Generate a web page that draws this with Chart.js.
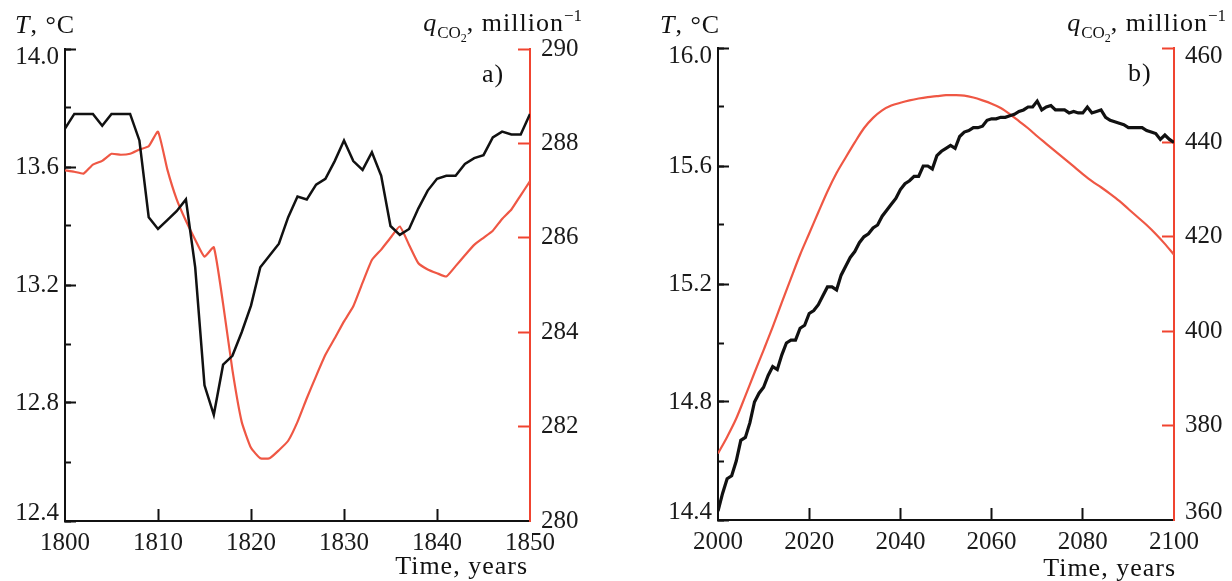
<!DOCTYPE html>
<html lang="en">
<head>
  <meta charset="UTF-8">
  <title>Temperature and CO2</title>
  <script src="https://cdn.jsdelivr.net/npm/chart.js"></script>
  <style>
    body { margin: 0; background: #fff; }
    #wrap { position: relative; width: 1232px; height: 581px; overflow: hidden; }
    canvas { position: absolute; top: 0; }
    #chartA { left: 0; }
    #chartB { left: 612px; }
    .t { position: absolute; font-family: 'Liberation Serif', serif; font-size: 26px; line-height: 1; white-space: nowrap; color: #111; letter-spacing: 1px; }
    .sub { font-size: 17px; position: relative; top: 7px; letter-spacing: 0; }
    .sub2 { font-size: 12px; position: relative; top: 4px; }
    .sup { font-size: 17px; position: relative; top: -10px; letter-spacing: 0; }
  </style>
</head>
<body>
  <div id="wrap">
    <canvas id="chartA" width="610" height="581"></canvas>
    <canvas id="chartB" width="620" height="581"></canvas>

    <!-- panel a labels -->
    <div class="t" style="left:15px; top:12px"><i>T</i>, °C</div>
    <div class="t" style="right:650px; top:10px"><i>q</i><span class="sub">CO<span class="sub2">2</span></span>, million<span class="sup">−1</span></div>
    <div class="t" style="left:482px; top:61px">a)</div>
    <div class="t" style="right:704px; top:553px">Time, years</div>

    <!-- panel b labels -->
    <div class="t" style="left:660px; top:12px"><i>T</i>, °C</div>
    <div class="t" style="right:6px; top:10px"><i>q</i><span class="sub">CO<span class="sub2">2</span></span>, million<span class="sup">−1</span></div>
    <div class="t" style="left:1128px; top:60px">b)</div>
    <div class="t" style="right:56px; top:555px">Time, years</div>
  </div>

  <script>
    // panel a: 1800-1850, yearly
    const yearsA = Array.from({ length: 51 }, (_, i) => 1800 + i);
    const tempA = [
      13.73, 13.78, 13.78, 13.78, 13.74, 13.78, 13.78, 13.78, 13.69, 13.43,
      13.39, 13.42, 13.45, 13.49, 13.26, 12.86, 12.76, 12.93, 12.96, 13.04,
      13.13, 13.26, 13.30, 13.34, 13.43, 13.50, 13.49, 13.54, 13.56, 13.62,
      13.69, 13.62, 13.59, 13.65, 13.57, 13.40, 13.37, 13.39, 13.46, 13.52,
      13.56, 13.57, 13.57, 13.61, 13.63, 13.64, 13.70, 13.72, 13.71, 13.71,
      13.78
    ];
    const co2A = [
      287.43, 287.40, 287.36, 287.55, 287.63, 287.78, 287.76, 287.78, 287.87, 287.94,
      288.25, 287.45, 286.82, 286.36, 285.96, 285.60, 285.80, 284.60, 283.20, 282.10,
      281.55, 281.33, 281.33, 281.50, 281.70, 282.10, 282.60, 283.07, 283.52, 283.87,
      284.23, 284.55, 285.05, 285.53, 285.75, 286.00, 286.24, 285.85, 285.46, 285.33,
      285.25, 285.18, 285.40, 285.63, 285.85, 286.00, 286.15, 286.40, 286.60, 286.90,
      287.20
    ];

    // panel b: 2000-2100, temperature yearly, CO2 every 2 years
    const yearsB = Array.from({ length: 101 }, (_, i) => 2000 + i);
    const tempB = [
      14.43, 14.49, 14.54, 14.55, 14.60, 14.67, 14.68, 14.73, 14.80, 14.83,
      14.85, 14.89, 14.92, 14.91, 14.96, 15.00, 15.01, 15.01, 15.05, 15.06,
      15.10, 15.11, 15.13, 15.16, 15.19, 15.19, 15.18, 15.23, 15.26, 15.29,
      15.31, 15.34, 15.36, 15.37, 15.39, 15.40, 15.43, 15.45, 15.47, 15.49,
      15.52, 15.54, 15.55, 15.565, 15.565, 15.60, 15.60, 15.59, 15.635, 15.65,
      15.66, 15.67, 15.66, 15.70, 15.715, 15.72, 15.73, 15.73, 15.735, 15.755,
      15.76, 15.76, 15.765, 15.765, 15.77, 15.775, 15.785, 15.79, 15.80, 15.80,
      15.82, 15.79, 15.80, 15.805, 15.79, 15.79, 15.79, 15.78, 15.785, 15.78,
      15.78, 15.80, 15.78, 15.785, 15.79, 15.765, 15.755, 15.75, 15.745, 15.74,
      15.73, 15.73, 15.73, 15.73, 15.72, 15.715, 15.71, 15.69, 15.705, 15.69,
      15.68
    ];
    const yearsCo2B = Array.from({ length: 51 }, (_, i) => 2000 + 2 * i);
    const co2B = [
      374.1, 377.6, 381.5, 386.3, 391.2, 396.0, 400.9, 406.1, 411.2, 416.2,
      420.7, 425.2, 429.6, 433.5, 436.8, 440.0, 443.0, 445.2, 446.8, 447.8,
      448.4, 448.9, 449.3, 449.6, 449.8, 450.0, 450.0, 449.9, 449.5, 448.9,
      448.2, 447.3, 446.0, 444.5, 443.0, 441.3, 439.7, 438.1, 436.5, 434.9,
      433.3, 431.8, 430.5, 429.1, 427.6, 425.9, 424.2, 422.5, 420.6, 418.5,
      416.2
    ];

    const BLACK = '#111111';
    const RED_LINE = '#ef5744';
    const RED_AXIS = '#f04430';
    const H = 581;

    Chart.defaults.font.family = "'Liberation Serif', serif";
    Chart.defaults.font.size = 25;
    Chart.defaults.color = '#1a1a1a';

    const pts = (xs, ys) => xs.map((x, i) => ({ x: x, y: ys[i] }));

    // end labels of an axis sit a little inside the range, as in the original figure
    const tuck = (fmt, min, max, on) => v => {
      const s = fmt(v);
      if (!on) return s;
      if (Math.abs(v - max) < 1e-6) return ['', s];
      if (Math.abs(v - min) < 1e-6) return [s, ''];
      return s;
    };

    function panel(id, o) {
      const hideAt = (vals, color) => c => (c.tick && vals.includes(c.tick.value)) ? 'rgba(0,0,0,0)' : color;
      const tickFont = { size: 25, lineHeight: 0.64 };
      return new Chart(document.getElementById(id), {
        type: 'line',
        data: {
          datasets: [
            { data: pts(o.tx, o.t), yAxisID: 'y', borderColor: BLACK, borderWidth: o.tWidth, pointRadius: 0, tension: 0 },
            { data: pts(o.qx, o.q), yAxisID: 'y1', borderColor: RED_LINE, borderWidth: 2.2, pointRadius: 0, tension: o.qTension }
          ]
        },
        options: {
          responsive: false,
          animation: false,
          events: [],
          layout: { padding: { top: o.top, left: 0, right: 0, bottom: 0 } },
          plugins: { legend: { display: false }, tooltip: { enabled: false } },
          scales: {
            x: {
              type: 'linear', position: 'bottom', min: o.xMin, max: o.xMax,
              ticks: { stepSize: o.xStep, padding: 19, maxRotation: 0, autoSkip: false, callback: v => String(v) },
              grid: { drawOnChartArea: false, tickLength: -12, tickWidth: 2, tickColor: hideAt([o.xMin, o.xMax], BLACK) },
              border: { color: BLACK, width: 2 },
              afterFit: s => { s.height = H - o.bottom; }
            },
            y: {
              position: 'left', weight: 1, min: o.tMin, max: o.tMax,
              ticks: { stepSize: 0.4, padding: 17, font: tickFont, callback: tuck(v => v.toFixed(1), o.tMin, o.tMax, true) },
              grid: { drawOnChartArea: false, tickLength: -11, tickWidth: 2, tickColor: BLACK },
              border: { color: BLACK, width: 2 },
              afterFit: s => { s.width = o.left; }
            },
            yMinor: {
              position: 'left', weight: 0, min: o.tMin, max: o.tMax,
              ticks: { stepSize: 0.2, display: false },
              grid: { drawOnChartArea: false, tickLength: -6, tickWidth: 2, tickColor: BLACK },
              border: { display: false },
              afterFit: s => { s.width = 0; }
            },
            y1: {
              position: 'right', min: o.qMin, max: o.qMax,
              ticks: { stepSize: o.qStep, padding: 23, font: tickFont, callback: tuck(v => String(v), o.qMin, o.qMax, o.tuckRight) },
              grid: { drawOnChartArea: false, tickLength: -12, tickWidth: 2, tickColor: hideAt([o.qMin], RED_AXIS) },
              border: { color: RED_AXIS, width: 2 },
              afterFit: s => { s.width = o.width - o.right; }
            }
          }
        }
      });
    }

    panel('chartA', {
      width: 610, left: 65, right: 530, top: 49, bottom: 521,
      tx: yearsA, t: tempA, qx: yearsA, q: co2A, tWidth: 2.5, qTension: 0.15,
      xMin: 1800, xMax: 1850, xStep: 10,
      tMin: 12.4, tMax: 14.0,
      qMin: 280, qMax: 290, qStep: 2, tuckRight: false
    });

    panel('chartB', {
      width: 620, left: 106, right: 562, top: 48, bottom: 520,
      tx: yearsB, t: tempB, qx: yearsCo2B, q: co2B, tWidth: 3.2, qTension: 0.3,
      xMin: 2000, xMax: 2100, xStep: 20,
      tMin: 14.4, tMax: 16.0,
      qMin: 360, qMax: 460, qStep: 20, tuckRight: true
    });
  </script>
</body>
</html>
